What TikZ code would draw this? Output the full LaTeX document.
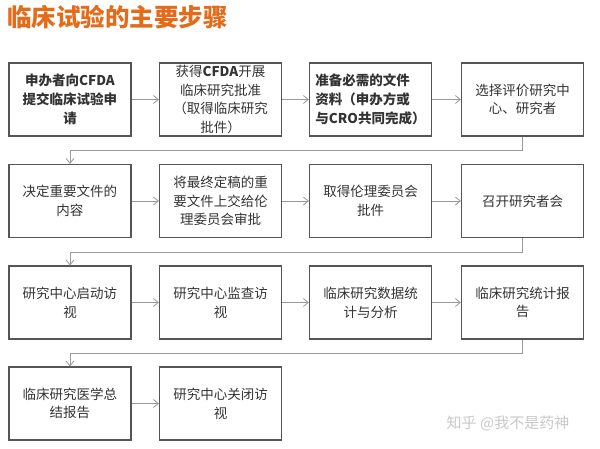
\documentclass[tikz,border=0pt]{standalone}
\usepackage{fontspec}
\setmainfont{Noto Sans CJK SC}
\usetikzlibrary{arrows.meta}
\definecolor{ttl}{HTML}{E36C1B}
\definecolor{boxc}{HTML}{555555}
\definecolor{txt}{HTML}{333333}
\definecolor{lnc}{HTML}{9A9A9A}
\definecolor{wm}{HTML}{C8C8C8}
\tikzset{
  stepbox/.style={draw=boxc, line width=1.1pt, minimum width=122pt, minimum height=73pt,
    inner sep=2pt, align=center, text=txt, font=\fontsize{13.5}{18.7}\selectfont},
  boldbox/.style={stepbox, font=\fontsize{13.5}{18.7}\selectfont\bfseries},
  flowarr/.style={draw=lnc, line width=0.8pt, -{Straight Barb[length=5pt,width=8pt]}},
}
\begin{document}
\begin{tikzpicture}[x=1pt,y=-1pt]
\useasboundingbox (0,0) rectangle (600,449);
\node[anchor=west, text=ttl, font=\fontsize{24.5}{27}\selectfont\bfseries, inner sep=0pt] (title) at (7,17) {临床试验的主要步骤};
% row 1
\node[boldbox] (a1) at (70,99.5) {申办者向CFDA\\提交临床试验申\\请};
\node[stepbox] (a2) at (220.5,99.5) {获得\textbf{CFDA}开展\\临床研究批准\\（取得临床研究\\批件）};
\node[boldbox, align=left] (a3) at (370.5,99.5) {准备必需的文件\\资料（申办方或\\与CRO共同完成）};
\node[stepbox] (a4) at (522.5,99.5) {选择评价研究中\\心、研究者};
% row 2
\node[stepbox] (b1) at (70,201) {决定重要文件的\\内容};
\node[stepbox] (b2) at (220.5,201) {将最终定稿的重\\要文件上交给伦\\理委员会审批};
\node[stepbox] (b3) at (370.5,201) {取得伦理委员会\\批件};
\node[stepbox] (b4) at (522.5,201) {召开研究者会};
% row 3
\node[stepbox] (c1) at (70,302.5) {研究中心启动访\\视};
\node[stepbox] (c2) at (220.5,302.5) {研究中心监查访\\视};
\node[stepbox] (c3) at (370.5,302.5) {临床研究数据统\\计与分析};
\node[stepbox] (c4) at (522.5,302.5) {临床研究统计报\\告};
% row 4
\node[stepbox] (d1) at (70,403.5) {临床研究医学总\\结报告};
\node[stepbox] (d2) at (220.5,403.5) {研究中心关闭访\\视};
% watermark
\node[text=wm, font=\fontsize{15}{18}\selectfont, inner sep=0pt] (wmk) at (508,423) {知乎 @我不是药神};
% horizontal arrows
\foreach \r in {a,b,c}{
  \draw[flowarr] (\r1.east) -- (\r2.west);
  \draw[flowarr] (\r2.east) -- (\r3.west);
  \draw[flowarr] (\r3.east) -- (\r4.west);
}
\draw[flowarr] (d1.east) -- (d2.west);
% return arrows
\draw[flowarr] (a4.south) -- ++(0pt,-14pt) -| (b1.north);
\draw[flowarr] (b4.south) -- ++(0pt,-14pt) -| (c1.north);
\draw[flowarr] (c4.south) -- ++(0pt,-14pt) -| (d1.north);
\end{tikzpicture}
\end{document}
